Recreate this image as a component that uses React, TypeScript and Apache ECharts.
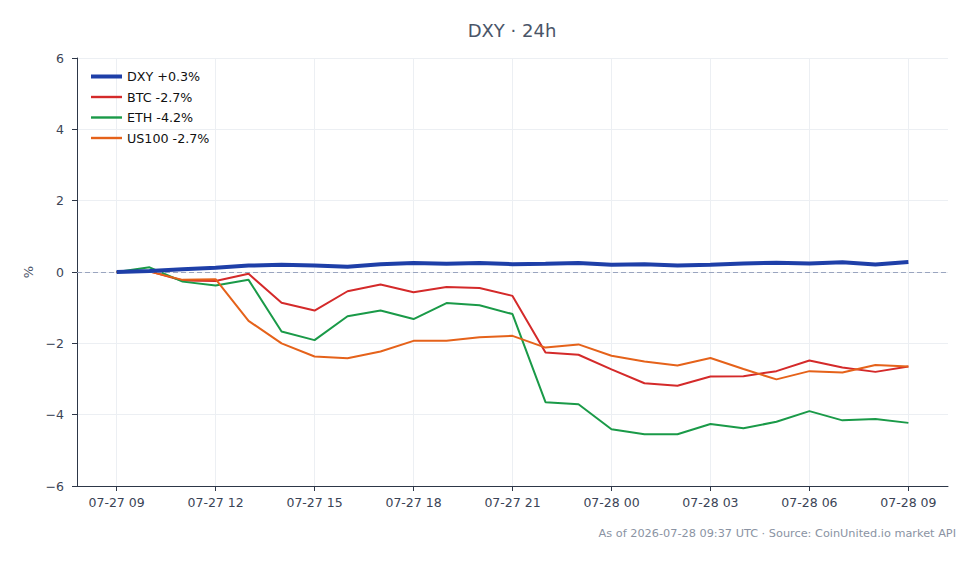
import React, { useEffect, useRef } from "react";
import * as echarts from "echarts";

const hours = [0, 1, 2, 3, 4, 5, 6, 7, 8, 9, 10, 11, 12, 13, 14, 15, 16, 17, 18, 19, 20, 21, 22, 23, 24];
const tickHours = [0, 3, 6, 9, 12, 15, 18, 21, 24];
const tickLabels = ["07-27 09", "07-27 12", "07-27 15", "07-27 18", "07-27 21", "07-28 00", "07-28 03", "07-28 06", "07-28 09"];

const dxy = [0, 0.03, 0.08, 0.12, 0.18, 0.2, 0.18, 0.15, 0.22, 0.25, 0.23, 0.25, 0.22, 0.23, 0.25, 0.2, 0.22, 0.18, 0.2, 0.24, 0.26, 0.24, 0.27, 0.21, 0.28];
const btc = [0, 0.02, -0.24, -0.25, -0.05, -0.86, -1.08, -0.54, -0.35, -0.57, -0.42, -0.45, -0.67, -2.26, -2.32, -2.73, -3.12, -3.19, -2.93, -2.92, -2.78, -2.48, -2.68, -2.8, -2.65];
const eth = [0, 0.13, -0.27, -0.38, -0.22, -1.67, -1.91, -1.24, -1.08, -1.32, -0.87, -0.93, -1.18, -3.65, -3.71, -4.41, -4.55, -4.55, -4.26, -4.38, -4.2, -3.9, -4.16, -4.12, -4.23];
const us100 = [0, 0.01, -0.22, -0.2, -1.37, -2.0, -2.37, -2.42, -2.23, -1.93, -1.93, -1.83, -1.79, -2.12, -2.03, -2.35, -2.51, -2.62, -2.41, -2.72, -3.01, -2.78, -2.82, -2.61, -2.65];

const seriesNames = ["DXY +0.3%", "BTC -2.7%", "ETH -4.2%", "US100 -2.7%"];
const seriesColors = ["#1e3fa8", "#d42a2a", "#1a9a48", "#e5621a"];

const FONT = "DejaVu Sans";

export default function App() {
  const ref = useRef<HTMLDivElement>(null);
  useEffect(() => {
    if (!ref.current) return;
    const chart = echarts.init(ref.current, null, { renderer: "svg" });
    const allValues = [dxy, btc, eth, us100];
    const widths = [4, 2, 2, 2];
    const series: any[] = allValues.map((vals, i) => ({
      name: seriesNames[i],
      type: "line",
      data: hours.map((h, j) => [h, vals[j]]),
      showSymbol: false,
      symbol: "none",
      z: i === 0 ? 5 : 3,
      lineStyle: { color: seriesColors[i], width: widths[i] },
      itemStyle: { color: seriesColors[i] },
      ...(i === 0
        ? {
            markLine: {
              silent: true,
              symbol: "none",
              label: { show: false },
              lineStyle: { color: "#9aa5bf", type: [5, 3], width: 1 },
              data: [{ yAxis: 0 }],
            },
          }
        : {}),
    }));
    chart.setOption({
      animation: false,
      textStyle: { fontFamily: FONT },
      title: {
        text: "DXY · 24h",
        left: 507,
        top: 16,
        textAlign: "center",
        textStyle: { fontFamily: FONT, fontSize: 18, fontWeight: "normal", color: "#4a5568" },
      },
      legend: {
        data: seriesNames.map((n, i) => ({
          name: n,
          icon: widths[i] > 2 ? "path://M0,0H31V4H0Z" : "path://M0,0H31V2.4H0Z",
          itemStyle: { color: seriesColors[i], borderWidth: 0 },
        })),
        symbolKeepAspect: true,
        orient: "vertical",
        left: 86,
        top: 65,
        itemWidth: 31,
        itemHeight: 12,
        itemGap: 7.5,
        textStyle: { fontFamily: FONT, fontSize: 12.7, color: "#111111" },
      },
      grid: { left: 77, right: 32, top: 58, bottom: 78, containLabel: false },
      xAxis: {
        type: "value",
        min: -1.2,
        max: 25.2,
        axisLine: { show: true, onZero: false, lineStyle: { color: "#2d3748", width: 1 } },
        axisTick: { show: true, customValues: tickHours, length: 5, lineStyle: { color: "#2d3748" } },
        axisLabel: {
          customValues: tickHours,
          formatter: (v: number) => tickLabels[Math.round(v / 3)] ?? "",
          color: "#3b4456",
          fontSize: 12.5,
          fontFamily: FONT,
          margin: 10,
        },
        splitLine: { show: true, lineStyle: { color: "#eceff3", width: 1 } },
      },
      yAxis: {
        type: "value",
        min: -6,
        max: 6,
        interval: 2,
        name: "%",
        nameLocation: "middle",
        nameGap: 42,
        nameTextStyle: { fontFamily: FONT, fontSize: 13, color: "#4a5568" },
        axisLine: { show: true, onZero: false, lineStyle: { color: "#2d3748", width: 1 } },
        axisTick: { show: true, length: 5, lineStyle: { color: "#2d3748" } },
        axisLabel: {
          formatter: (v: number) => (v < 0 ? "\u2212" + Math.abs(v) : String(v)),
          color: "#3b4456",
          fontSize: 12.5,
          fontFamily: FONT,
          margin: 13,
        },
        splitLine: { show: true, lineStyle: { color: "#eceff3", width: 1 } },
      },
      graphic: [
        {
          type: "text",
          right: 24,
          top: 528,
          style: {
            text: "As of 2026-07-28 09:37 UTC · Source: CoinUnited.io market API",
            fill: "#8a93a3",
            fontSize: 11.3,
            fontFamily: FONT,
          },
        },
      ],
      series: [series[1], series[2], series[3], series[0]],
    });
    return () => chart.dispose();
  }, []);
  return <div ref={ref} style={{ width: 980, height: 564, position: "absolute", left: 0, top: 0 }} />;
}
